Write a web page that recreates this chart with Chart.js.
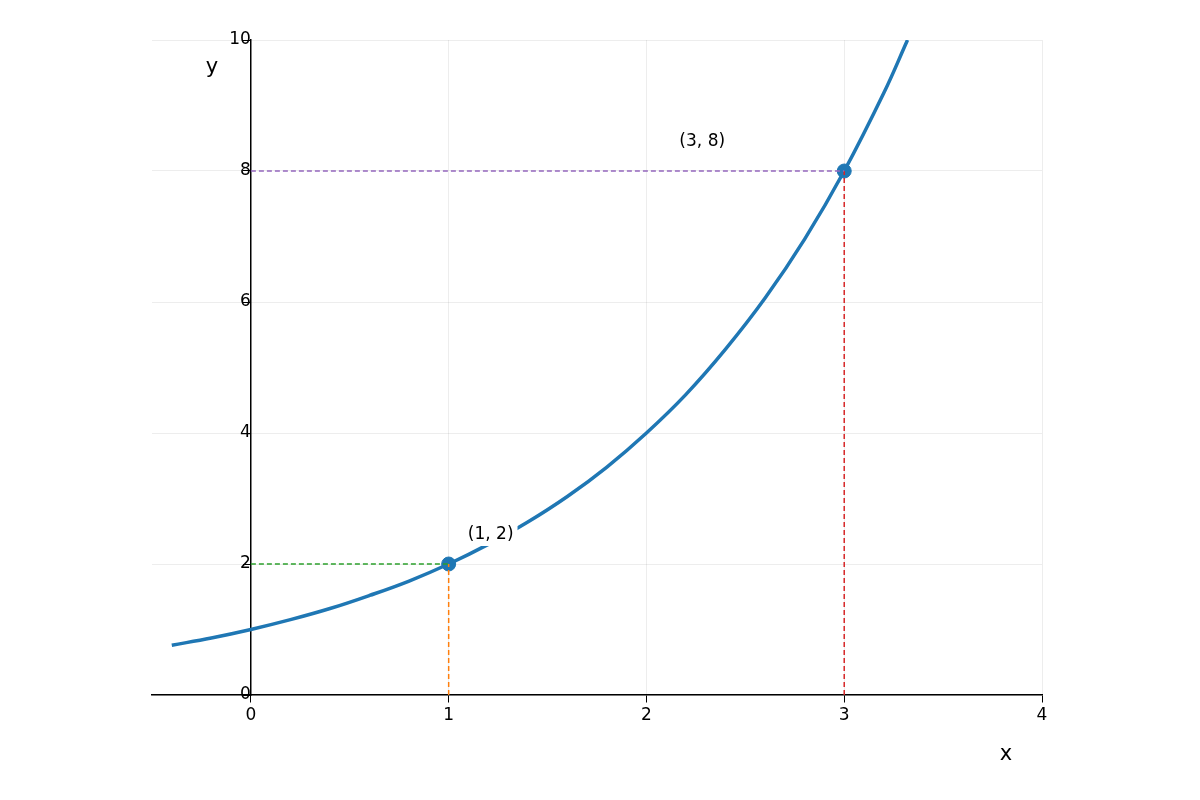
<!DOCTYPE html>
<html><head><meta charset="utf-8">
<script src="https://cdn.jsdelivr.net/npm/chart.js@4/dist/chart.umd.min.js"></script>
<style>html,body{margin:0;padding:0;background:#fff}</style>
</head><body>
<canvas id="c" width="1200" height="800" style="width:1200px;height:800px"></canvas>
<script>
const curveX = [-0.4,-0.2,0,0.2,0.4,0.6,0.8,1,1.2,1.4,1.6,1.8,2,2.2,2.4,2.6,2.8,3,3.2,3.32];
const curveY = [0.76,0.87,1,1.15,1.32,1.52,1.74,2,2.30,2.64,3.03,3.48,4,4.59,5.28,6.06,6.96,8,9.19,10];
const pointsX = [1,3];
const pointsY = [2,8];
const pointLabels = ["(1, 2)","(3, 8)"];
const xTicks = [0,1,2,3,4];
const yTicks = [0,2,4,6,8,10];
const font = "'DejaVu Sans', sans-serif";

const dash = (pts,color)=>({type:'line',data:pts.map(p=>({x:p[0],y:p[1]})),borderColor:color,borderWidth:1.5,borderDash:[5,3],pointRadius:0,fill:false});

const labelsPlugin = {
  id:'labels',
  afterDatasetsDraw(chart){
    const {ctx,scales:{x,y}} = chart;
    ctx.save();
    ctx.font = "17px "+font;
    ctx.textAlign='center'; ctx.textBaseline='middle';
    const offs=[[0.21,0.45],[0.29,0.45]];
    pointsX.forEach((px,i)=>{
      const tx = x.getPixelForValue(px)+ (i===0?42:-142);
      const ty = y.getPixelForValue(pointsY[i]) + (i===0?-29:-29);
      const w = ctx.measureText(pointLabels[i]).width+8;
      ctx.fillStyle='#fff'; ctx.fillRect(tx-w/2,ty-11,w,22);
      ctx.fillStyle='#000'; ctx.fillText(pointLabels[i],tx,ty);
    });
    ctx.font = "21px "+font;
    ctx.fillText('x',1006,755);
    ctx.fillText('y',212,68);
    ctx.restore();
  }
};

new Chart(document.getElementById('c'),{
  type:'scatter',
  data:{datasets:[
    dash([[0,2],[1,2]],'#2ca02c'),
    dash([[1,0],[1,2]],'#ff7f0e'),
    dash([[0,8],[3,8]],'#9467bd'),
    dash([[3,0],[3,8]],'#d62728'),
    {type:'line',data:curveX.map((v,i)=>({x:v,y:curveY[i]})),borderColor:'#1f77b4',borderWidth:3.5,pointRadius:0,tension:0.4,fill:false},
    {type:'scatter',data:pointsX.map((v,i)=>({x:v,y:pointsY[i]})),backgroundColor:'#1f77b4',borderColor:'#1f77b4',pointRadius:7}
  ]},
  options:{
    responsive:false,animation:false,
    layout:{padding:{left:152,right:158,top:40,bottom:105}},
    plugins:{legend:{display:false},tooltip:{enabled:false}},
    scales:{
      x:{type:'linear',min:-0.5,max:4,position:{y:0},
        afterBuildTicks:s=>{s.ticks=xTicks.map(v=>({value:v}));},
        grid:{color:'rgba(0,0,0,0.07)',tickColor:'#000',tickLength:7},
        border:{color:'#000',width:1.5},
        ticks:{color:'#000',font:{size:17,family:font},maxRotation:0}},
      y:{type:'linear',min:0,max:10,position:{x:0},
        afterBuildTicks:s=>{s.ticks=yTicks.map(v=>({value:v}));},
        grid:{color:'rgba(0,0,0,0.07)',tickColor:'#000',tickLength:7},
        border:{color:'#000',width:1.5},
        ticks:{color:'#000',font:{size:17,family:font}}}
    }
  },
  plugins:[labelsPlugin]
});
</script>
</body></html>
